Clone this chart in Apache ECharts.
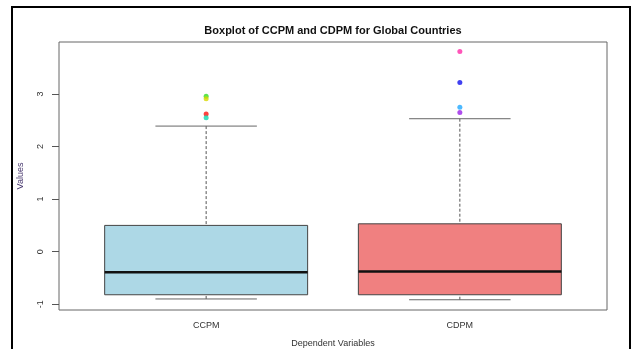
<!DOCTYPE html>
<html>
<head>
<meta charset="utf-8">
<script src="https://cdn.jsdelivr.net/npm/echarts@6/dist/echarts.min.js"></script>
<style>
html,body{margin:0;padding:0;background:#fff;}
#c{width:632px;height:349px;}
</style>
</head>
<body>
<div id="c"></div>
<script>
// ---- data ----
var categories = ['CCPM', 'CDPM'];
var lowerWhisker = [-0.90, -0.915];
var q1Values = [-0.82, -0.82];
var medianValues = [-0.39, -0.377];
var q3Values = [0.50, 0.53];
var upperWhisker = [2.39, 2.53];
var ccpmOutliers = [2.96, 2.91, 2.62, 2.55];
var cdpmOutliers = [3.81, 3.22, 2.75, 2.65];
var yTicks = [-1, 0, 1, 2, 3];

// ---- styles ----
var boxColors = ['#ADD8E6', '#F08080'];
var ccpmOutlierColors = ['#33dd22', '#d8d800', '#ff1010', '#10d8b0'];
var cdpmOutlierColors = ['#ff2aa8', '#1010ee', '#20a8ff', '#9a20e8'];

var boxData = categories.map(function (c, i) {
  return [i + 1, lowerWhisker[i], q1Values[i], medianValues[i], q3Values[i], upperWhisker[i]];
});
var outlierData = [];
ccpmOutliers.forEach(function (v, j) {
  outlierData.push({ value: [1, v], itemStyle: { color: ccpmOutlierColors[j] } });
});
cdpmOutliers.forEach(function (v, j) {
  outlierData.push({ value: [2, v], itemStyle: { color: cdpmOutlierColors[j] } });
});

var FONT = 'Liberation Sans, Arial, sans-serif';
var chart = echarts.init(document.getElementById('c'), null, { renderer: 'canvas' });
chart.setOption({
  animation: false,
  backgroundColor: '#ffffff',
  title: {
    text: 'Boxplot of CCPM and CDPM for Global Countries',
    left: 333, top: 25, textAlign: 'center', padding: 0,
    textStyle: { fontFamily: FONT, fontSize: 11, fontWeight: 'bold', color: '#111' }
  },
  graphic: [{
    type: 'rect', silent: true,
    shape: { x: 12, y: 7, width: 618, height: 400 },
    style: { fill: 'none', stroke: '#000', lineWidth: 2 }
  }],
  grid: {
    left: 59, right: 25, top: 42, bottom: 39,
    containLabel: false, outerBoundsMode: 'none',
    show: true, borderColor: '#666', borderWidth: 1, backgroundColor: 'transparent'
  },
  xAxis: {
    type: 'value', min: 0.42, max: 2.58,
    name: 'Dependent Variables', nameLocation: 'middle', nameGap: 29,
    nameTextStyle: { fontFamily: FONT, fontSize: 9, color: '#333' },
    axisLine: { show: false },
    splitLine: { show: false },
    axisTick: { show: true, customValues: [1, 2], length: 6, lineStyle: { color: '#555' } },
    axisLabel: {
      customValues: [1, 2], margin: 11,
      fontFamily: FONT, fontSize: 9, color: '#333',
      formatter: function (v) { return categories[Math.round(v) - 1]; }
    }
  },
  yAxis: {
    type: 'value', min: -1.11, max: 3.99,
    name: 'Values', nameLocation: 'middle', nameGap: 34, nameRotate: 90,
    nameTextStyle: { fontFamily: FONT, fontSize: 9, color: '#4a3a70' },
    axisLine: { show: false },
    splitLine: { show: false },
    axisTick: { show: true, customValues: yTicks, length: 7, lineStyle: { color: '#555' } },
    axisLabel: {
      customValues: yTicks, rotate: 90, margin: 14,
      fontFamily: FONT, fontSize: 9, color: '#333'
    }
  },
  series: [{
    type: 'custom',
    data: boxData,
    encode: { x: 0, y: [1, 2, 3, 4, 5] },
    renderItem: function (params, api) {
      var x = api.value(0);
      var lo = api.coord([x, api.value(1)]);
      var q1 = api.coord([x, api.value(2)]);
      var md = api.coord([x, api.value(3)]);
      var q3 = api.coord([x, api.value(4)]);
      var hi = api.coord([x, api.value(5)]);
      var bw = api.size([0.8, 0])[0];
      var cw = bw * 0.5;
      var dash = { stroke: '#555', lineWidth: 1, lineDash: [3, 2] };
      var cap = { stroke: '#666', lineWidth: 1 };
      return {
        type: 'group',
        children: [
          { type: 'line', shape: { x1: hi[0], y1: hi[1], x2: q3[0], y2: q3[1] }, style: dash },
          { type: 'line', shape: { x1: lo[0], y1: lo[1], x2: q1[0], y2: q1[1] }, style: dash },
          { type: 'line', shape: { x1: hi[0] - cw / 2, y1: hi[1], x2: hi[0] + cw / 2, y2: hi[1] }, style: cap },
          { type: 'line', shape: { x1: lo[0] - cw / 2, y1: lo[1], x2: lo[0] + cw / 2, y2: lo[1] }, style: cap },
          { type: 'rect', shape: { x: q3[0] - bw / 2, y: q3[1], width: bw, height: q1[1] - q3[1] },
            style: { fill: boxColors[params.dataIndex], stroke: '#444', lineWidth: 1 } },
          { type: 'line', shape: { x1: md[0] - bw / 2, y1: md[1], x2: md[0] + bw / 2, y2: md[1] },
            style: { stroke: '#111', lineWidth: 2.5 } }
        ]
      };
    }
  }, {
    type: 'scatter',
    data: outlierData,
    symbol: 'circle',
    symbolSize: 5,
    z: 5
  }]
});
</script>
</body>
</html>
